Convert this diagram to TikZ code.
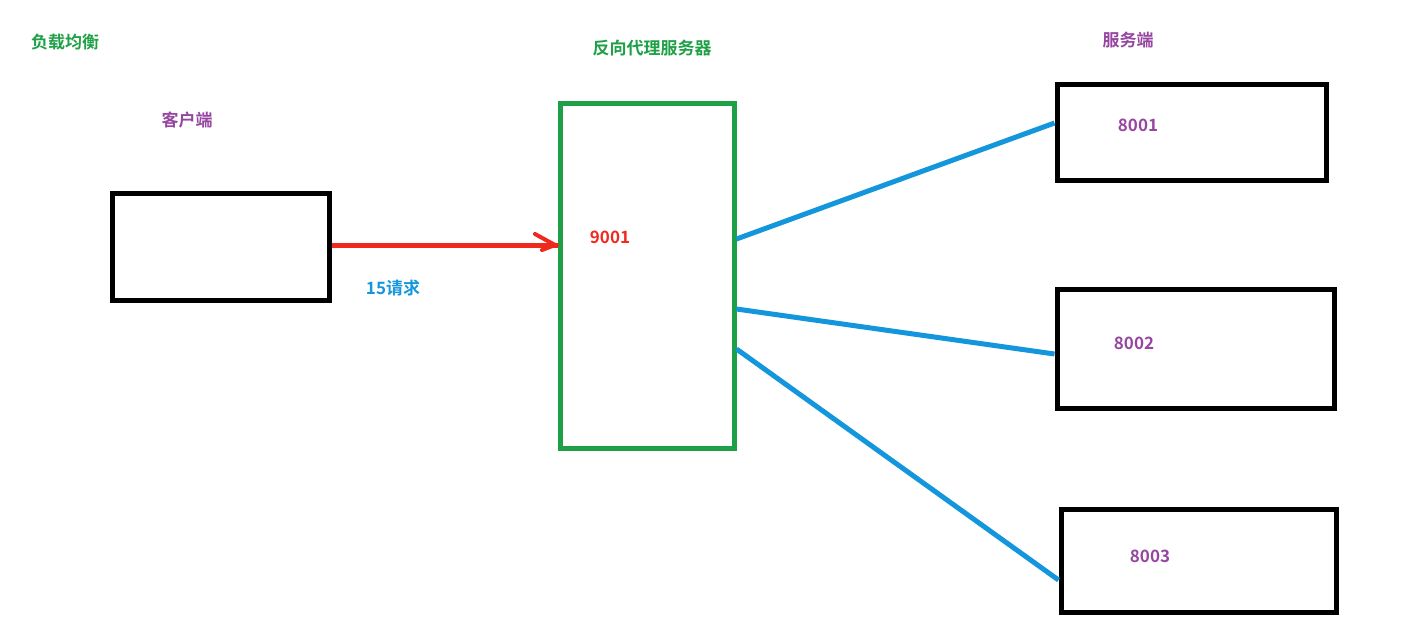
\documentclass[tikz,border=0pt]{standalone}
\usepackage{fontspec}
\newfontfamily\cjk{Noto Sans CJK SC}[BoldFont={Noto Sans CJK SC Bold}]
\definecolor{gr}{RGB}{30,160,70}
\definecolor{pu}{RGB}{150,70,160}
\definecolor{bl}{RGB}{20,150,220}
\definecolor{rd}{RGB}{240,40,30}
\begin{document}
\begin{tikzpicture}[x=1pt,y=-1pt,
  box/.style={draw=black,line width=5pt,inner sep=0pt},
  lbl/.style={font=\cjk\bfseries\fontsize{17}{20}\selectfont},
  link/.style={draw=bl,line width=5pt}]
\useasboundingbox (0,0) rectangle (1415,642);
\node[lbl,text=gr] (t1) at (65,42) {负载均衡};
\node[lbl,text=pu] (t2) at (187,120) {客户端};
\node[lbl,text=gr] (t3) at (652,48) {反向代理服务器};
\node[lbl,text=pu] (t4) at (1128,40) {服务端};
\node[box,minimum width=217pt,minimum height=107pt] (cl) at (220.5,246.5) {};
\node[box,draw=gr,minimum width=174pt,minimum height=345pt] (px) at (647,275.5) {};
\node[box,minimum width=269pt,minimum height=96pt] (s1) at (1191.5,132) {};
\node[box,minimum width=277pt,minimum height=119pt] (s2) at (1195.5,348.5) {};
\node[box,minimum width=275pt,minimum height=103pt] (s3) at (1198.5,560.5) {};
\node[lbl,text=rd] (p) at (610,237) {9001};
\node[lbl,text=pu] (n1) at (1138,125) {8001};
\node[lbl,text=pu] (n2) at (1134,343) {8002};
\node[lbl,text=pu] (n3) at (1150,556) {8003};
\node[lbl,text=bl] (rq) at (393,288) {15请求};
\draw[draw=rd,line width=5pt] (cl.east |- 0,245) -- (px.west |- 0,245);
\draw[draw=rd,line width=4pt,line cap=round] (535,234) -- (555,245) -- (542,250);
\draw[link] (px.east |- 0,239) -- (s1.west |- 0,123);
\draw[link] (px.east |- 0,309) -- (s2.west |- 0,354);
\draw[link] (px.east |- 0,349) -- (s3.west |- 0,580);
\end{tikzpicture}
\end{document}
